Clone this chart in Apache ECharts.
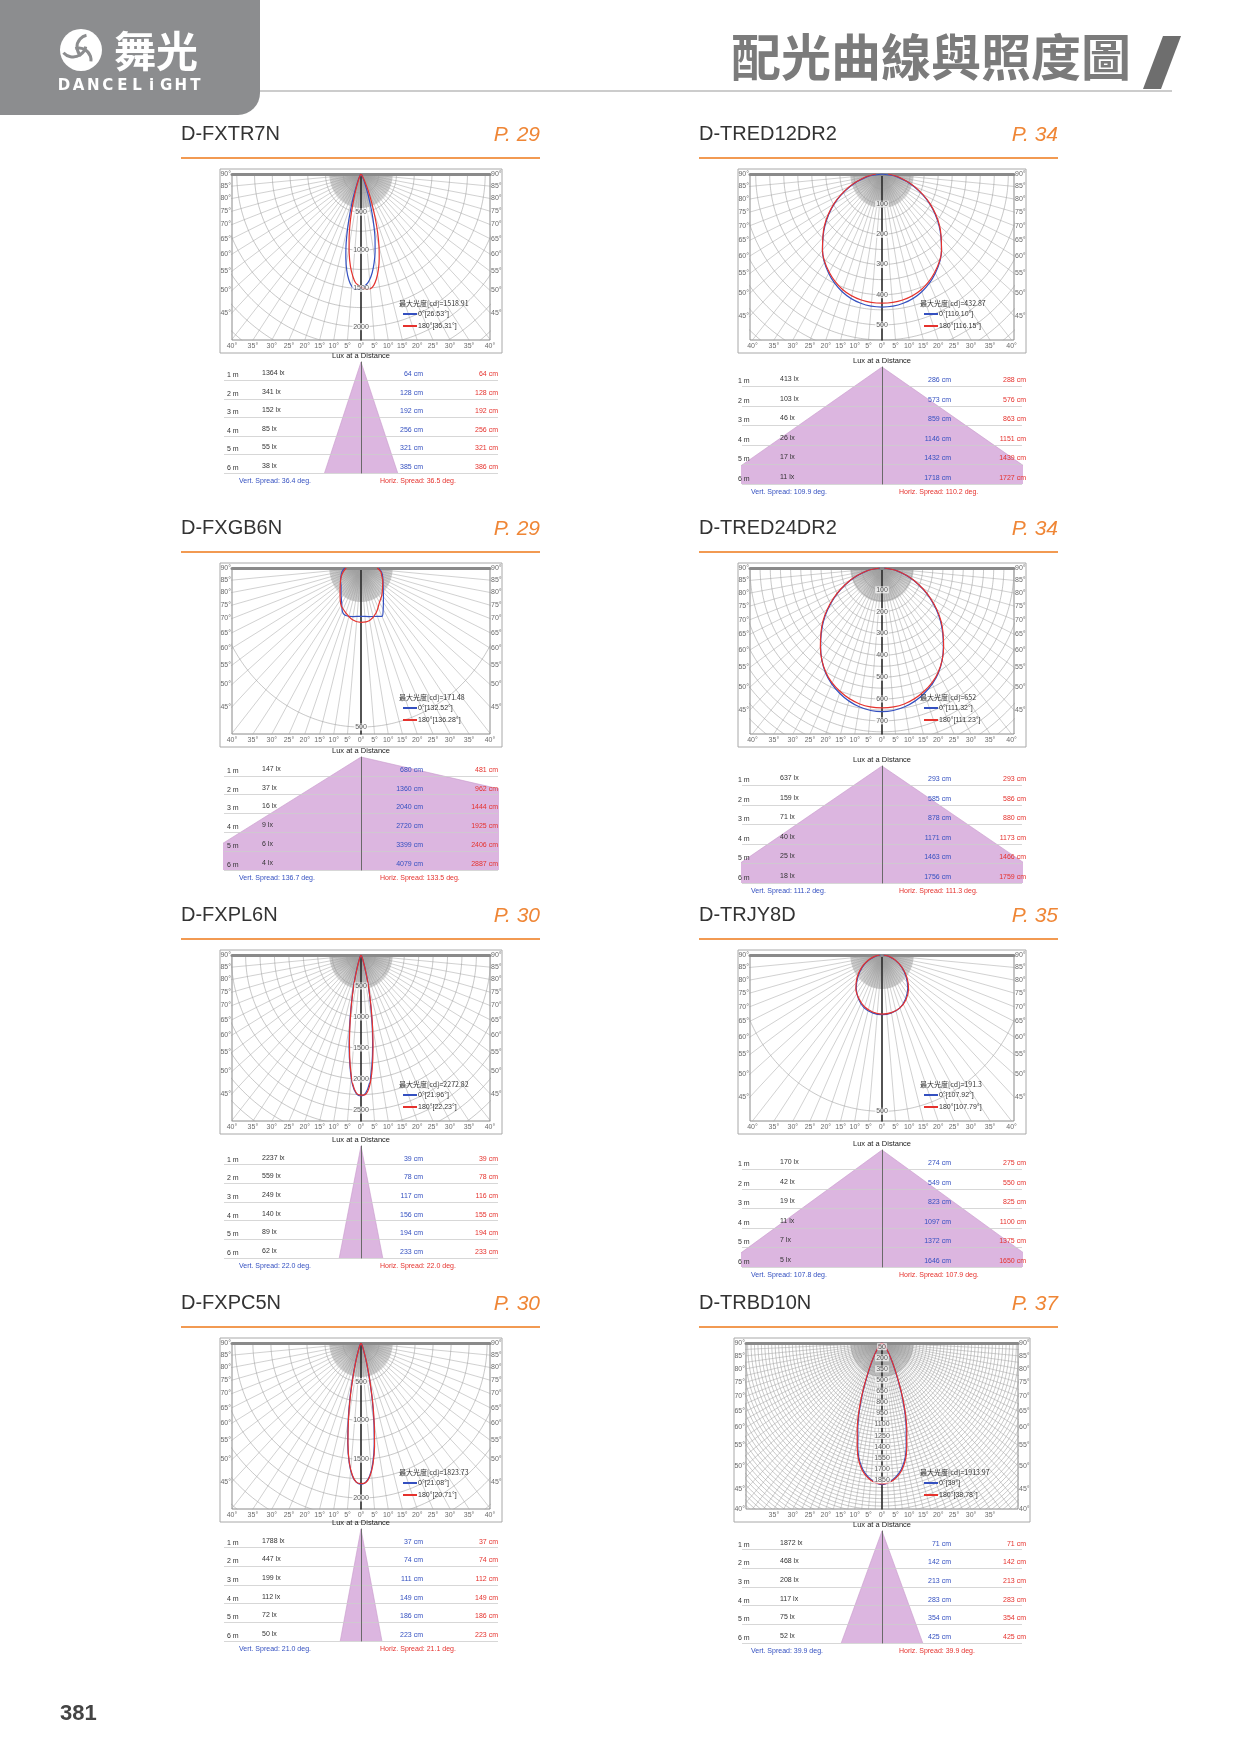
<!DOCTYPE html>
<html lang="zh-Hant">
<head>
  <meta charset="UTF-8">
  <title>配光曲線與照度圖</title>
  <style>
    html, body { margin: 0; padding: 0; background: #fff; }
    #main { width: 1241px; height: 1754px; }
  </style>
</head>
<body>
  <div id="main"></div>
  <script src="https://cdn.jsdelivr.net/npm/echarts@6/dist/echarts.min.js"></script>
  <script>
    // ---- data ----
    var modelNames = ['D-FXTR7N', 'D-TRED12DR2', 'D-FXGB6N', 'D-TRED24DR2', 'D-FXPL6N', 'D-TRJY8D', 'D-FXPC5N', 'D-TRBD10N'];
    var pageRefs = ['P. 29', 'P. 34', 'P. 29', 'P. 34', 'P. 30', 'P. 35', 'P. 30', 'P. 37'];
    var maxIntensity = ['1518.91', '432.87', '171.48', '652', '2272.82', '191.3', '1823.73', '1913.97'];
    var beamC0 = ['26.53°', '110.10°', '132.52°', '111.32°', '21.96°', '107.92°', '21.08°', '39°'];
    var beamC180 = ['36.31°', '116.15°', '136.28°', '111.23°', '22.23°', '107.79°', '20.71°', '38.78°'];

    var distanceLabels = ['1 m', '2 m', '3 m', '4 m', '5 m', '6 m'];
    var luxAtDistance = [
      [1364, 341, 152, 85, 55, 38],
      [413, 103, 46, 26, 17, 11],
      [147, 37, 16, 9, 6, 4],
      [637, 159, 71, 40, 25, 18],
      [2237, 559, 249, 140, 89, 62],
      [170, 42, 19, 11, 7, 5],
      [1788, 447, 199, 112, 72, 50],
      [1872, 468, 208, 117, 75, 52]
    ];
    var vertDiameter = [
      [64, 128, 192, 256, 321, 385],
      [286, 573, 859, 1146, 1432, 1718],
      [680, 1360, 2040, 2720, 3399, 4079],
      [293, 585, 878, 1171, 1463, 1756],
      [39, 78, 117, 156, 194, 233],
      [274, 549, 823, 1097, 1372, 1646],
      [37, 74, 111, 149, 186, 223],
      [71, 142, 213, 283, 354, 425]
    ];
    var horizDiameter = [
      [64, 128, 192, 256, 321, 386],
      [288, 576, 863, 1151, 1439, 1727],
      [481, 962, 1444, 1925, 2406, 2887],
      [293, 586, 880, 1173, 1466, 1759],
      [39, 78, 116, 155, 194, 233],
      [275, 550, 825, 1100, 1375, 1650],
      [37, 74, 112, 149, 186, 223],
      [71, 142, 213, 283, 354, 425]
    ];
    var vertSpread = ['36.4', '109.9', '136.7', '111.2', '22.0', '107.8', '21.0', '39.9'];
    var horizSpread = ['36.5', '110.2', '133.5', '111.3', '22.0', '107.9', '21.1', '39.9'];
    // half angles of the drawn cone (deg), left / right
    var coneLeft = [18.2, 55, 58, 55.6, 11, 53.9, 10.5, 20];
    var coneRight = [18.3, 55.1, 77, 55.7, 11, 54, 10.6, 20];

    // ring tick labels (cd)
    var ringTicks = [
      [500, 1000, 1500, 2000],
      [100, 200, 300, 400, 500],
      [500],
      [100, 200, 300, 400, 500, 600, 700],
      [500, 1000, 1500, 2000, 2500],
      [500],
      [500, 1000, 1500, 2000],
      [50, 200, 350, 500, 650, 800, 950, 1100, 1250, 1400, 1550, 1700, 1850]
    ];
    var sideAngleTicks = [90, 85, 80, 75, 70, 65, 60, 55, 50, 45];
    var bottomAngleTicks = [40, 35, 30, 25, 20, 15, 10, 5, 0];
    var sideAngleTicksWide = [90, 85, 80, 75, 70, 65, 60, 55, 50, 45, 40];
    var bottomAngleTicksWide = [35, 30, 25, 20, 15, 10, 5, 0];

    // intensity curves [angle deg, cd]; negative angle = left half
    var fxtr7nC0 = [[-90, 0], [-50, 5], [-40, 15], [-30, 45], [-25, 110], [-20, 300], [-17, 520], [-15, 720], [-13, 930], [-11, 1120], [-9, 1280], [-7, 1400], [-5, 1480], [-3, 1515], [0, 1500], [3, 1450], [5, 1390], [7, 1300], [9, 1180], [11, 1040], [13, 880], [15, 700], [17, 520], [20, 300], [25, 110], [30, 45], [40, 15], [50, 5], [90, 0]];
    var fxtr7nC180 = [[-90, 0], [-50, 5], [-40, 12], [-30, 35], [-25, 80], [-20, 200], [-17, 360], [-15, 520], [-13, 700], [-11, 880], [-9, 1060], [-7, 1220], [-5, 1340], [-3, 1430], [0, 1480], [3, 1515], [5, 1510], [7, 1470], [9, 1390], [11, 1280], [13, 1140], [15, 980], [17, 800], [19, 620], [22, 400], [25, 240], [30, 90], [40, 20], [50, 5], [90, 0]];
    var tred12C0 = [[-90, 0], [-80, 55], [-70, 120], [-60, 195], [-50, 265], [-40, 330], [-30, 380], [-20, 415], [-10, 435], [0, 441], [10, 435], [20, 415], [30, 380], [40, 330], [50, 265], [60, 195], [70, 120], [80, 55], [90, 0]];
    var tred12C180 = [[-90, 22], [-80, 62], [-70, 125], [-60, 198], [-50, 268], [-40, 330], [-30, 376], [-20, 408], [-10, 424], [0, 428], [10, 424], [20, 408], [30, 376], [40, 330], [50, 268], [60, 198], [70, 125], [80, 62], [90, 22]];
    var fxgb6nC0 = [[-90, 55], [-80, 65], [-70, 72], [-60, 80], [-50, 88], [-40, 105], [-30, 130], [-25, 150], [-20, 158], [-10, 155], [0, 152], [10, 155], [20, 162], [25, 168], [30, 150], [40, 118], [50, 98], [60, 86], [70, 78], [80, 70], [90, 60]];
    var fxgb6nC180 = [[-90, 50], [-80, 60], [-70, 70], [-60, 80], [-50, 92], [-40, 110], [-30, 135], [-20, 150], [-10, 165], [0, 171], [10, 168], [20, 150], [30, 125], [40, 110], [50, 95], [60, 85], [70, 75], [80, 68], [90, 55]];
    var tred24C0 = [[-90, 10], [-80, 75], [-70, 165], [-60, 270], [-50, 375], [-40, 470], [-30, 555], [-20, 610], [-10, 645], [0, 658], [10, 645], [20, 610], [30, 555], [40, 470], [50, 375], [60, 270], [70, 165], [80, 75], [90, 10]];
    var tred24C180 = [[-90, 12], [-80, 78], [-70, 170], [-60, 275], [-50, 380], [-40, 472], [-30, 552], [-20, 602], [-10, 632], [0, 640], [10, 632], [20, 602], [30, 552], [40, 472], [50, 380], [60, 275], [70, 170], [80, 78], [90, 12]];
    var fxpl6nC0 = [[-90, 0], [-40, 8], [-30, 25], [-25, 55], [-20, 130], [-18, 220], [-16, 360], [-14, 560], [-12, 800], [-10, 1120], [-8, 1480], [-6, 1820], [-4, 2100], [-2, 2240], [0, 2272], [2, 2230], [4, 2080], [6, 1800], [8, 1450], [10, 1100], [12, 780], [14, 540], [16, 350], [18, 210], [20, 130], [25, 55], [30, 25], [40, 8], [90, 0]];
    var fxpl6nC180 = [[-90, 0], [-40, 8], [-30, 22], [-25, 50], [-20, 120], [-18, 200], [-16, 340], [-14, 530], [-12, 780], [-10, 1080], [-8, 1440], [-6, 1790], [-4, 2080], [-2, 2230], [0, 2260], [2, 2250], [4, 2120], [6, 1850], [8, 1500], [10, 1140], [12, 820], [14, 570], [16, 370], [18, 225], [20, 140], [25, 58], [30, 26], [40, 8], [90, 0]];
    var trjy8dC0 = [[-90, 5], [-80, 22], [-70, 48], [-60, 78], [-50, 108], [-40, 138], [-30, 162], [-20, 180], [-10, 188], [0, 191], [10, 188], [20, 180], [30, 162], [40, 138], [50, 108], [60, 78], [70, 48], [80, 22], [90, 5]];
    var trjy8dC180 = [[-90, 8], [-80, 26], [-70, 52], [-60, 82], [-50, 112], [-40, 140], [-30, 160], [-20, 176], [-10, 185], [0, 189], [10, 187], [20, 180], [30, 165], [40, 142], [50, 112], [60, 80], [70, 50], [80, 24], [90, 6]];
    var fxpc5nC0 = [[-90, 0], [-40, 5], [-30, 20], [-25, 50], [-20, 120], [-18, 200], [-16, 320], [-14, 500], [-12, 750], [-10, 1030], [-8, 1320], [-6, 1560], [-4, 1720], [-2, 1800], [0, 1823], [2, 1800], [4, 1720], [6, 1560], [8, 1320], [10, 1030], [12, 750], [14, 500], [16, 320], [18, 200], [20, 120], [25, 50], [30, 20], [40, 5], [90, 0]];
    var fxpc5nC180 = [[-90, 0], [-40, 5], [-30, 18], [-25, 45], [-20, 110], [-18, 185], [-16, 300], [-14, 470], [-12, 720], [-10, 1000], [-8, 1300], [-6, 1550], [-4, 1710], [-2, 1800], [0, 1815], [2, 1805], [4, 1730], [6, 1580], [8, 1350], [10, 1060], [12, 780], [14, 520], [16, 335], [18, 210], [20, 125], [25, 52], [30, 20], [40, 5], [90, 0]];
    var trbd10nC0 = [[-90, 0], [-70, 5], [-60, 15], [-50, 40], [-40, 100], [-35, 170], [-30, 300], [-26, 480], [-23, 700], [-20, 950], [-17, 1200], [-14, 1450], [-10, 1700], [-5, 1850], [0, 1910], [5, 1850], [10, 1700], [14, 1450], [17, 1200], [20, 950], [23, 700], [26, 480], [30, 300], [35, 170], [40, 100], [50, 40], [60, 15], [70, 5], [90, 0]];
    var trbd10nC180 = [[-90, 0], [-70, 5], [-60, 15], [-50, 40], [-40, 100], [-35, 175], [-30, 310], [-26, 500], [-23, 720], [-20, 980], [-17, 1230], [-14, 1480], [-10, 1720], [-5, 1860], [0, 1900], [5, 1860], [10, 1720], [14, 1480], [17, 1230], [20, 980], [23, 720], [26, 500], [30, 310], [35, 175], [40, 100], [50, 40], [60, 15], [70, 5], [90, 0]];

    var curvesC0 = [fxtr7nC0, tred12C0, fxgb6nC0, tred24C0, fxpl6nC0, trjy8dC0, fxpc5nC0, trbd10nC0];
    var curvesC180 = [fxtr7nC180, tred12C180, fxgb6nC180, tred24C180, fxpl6nC180, trjy8dC180, fxpc5nC180, trbd10nC180];

    // ---- layout ----
    var rowY = [134, 528, 915, 1303];
    var colCx = [361, 882];
    var titleX = [181, 699];
    var lineRight = [540, 1058];
    var plotHalfW = [129, 132, 129, 132, 129, 132, 129, 136];
    var plotH = 166;
    var xSquash = 0.93;   // the sheet's plots are a little narrower than true scale
    var hcdAxis = [2175, 550, 522, 760, 2676, 531, 2142, 2240];
    var minorStep = [250, 50, 500, 50, 250, 500, 250, 50];
    var tableOff = [228, 233, 229, 238, 231, 235, 226, 228];
    var tableH = [111, 117, 113, 117, 112, 117, 112, 112];
    var tableHalfW = [137, 140];
    var txtDist = [-134, -144], txtLux = [-99, -102], txtBlue = [62, 69], txtRed = [137, 144];
    var txtVert = [-122, -131], txtHoriz = [19, 17];

    var BLUE = '#3450c0', RED = '#e5322d', GRIDC = '#a3a3a3';
    var LATIN = 'Liberation Sans, Arial, sans-serif';
    var CJK = '"Noto Sans CJK TC", "Noto Sans CJK SC", sans-serif';
    var GAP = ['-', '-'];

    function toXY(angle, cd) {
      var a = angle * Math.PI / 180;
      return [cd * Math.sin(a), -cd * Math.cos(a)];
    }

    var grids = [], xAxes = [], yAxes = [], series = [], graphics = [];

    function txt(x, y, s, font, color, align) {
      graphics.push({
        type: 'text', x: x, y: y, z: 100, silent: true,
        style: { text: s, font: font, fill: color, textAlign: align || 'left', textVerticalAlign: 'middle' }
      });
    }

    // header
    graphics.push({ type: 'rect', z: 1, shape: { x: 0, y: 0, width: 260, height: 115, r: [0, 0, 22, 0] }, style: { fill: '#8c8d8f' } });
    graphics.push({ type: 'circle', z: 2, shape: { cx: 81, cy: 50, r: 21 }, style: { fill: '#fff' } });
    graphics.push({ type: 'arc', z: 3, shape: { cx: 73, cy: 44, r: 13, startAngle: 0.2, endAngle: 2.4 }, style: { stroke: '#8c8d8f', lineWidth: 3, fill: null } });
    graphics.push({ type: 'arc', z: 3, shape: { cx: 89, cy: 47, r: 12, startAngle: 2.3, endAngle: 4.5 }, style: { stroke: '#8c8d8f', lineWidth: 3, fill: null } });
    graphics.push({ type: 'arc', z: 3, shape: { cx: 79, cy: 60, r: 12, startAngle: 4.4, endAngle: 6.4 }, style: { stroke: '#8c8d8f', lineWidth: 3, fill: null } });
    txt(114, 51, '舞光', 'bold 42px ' + CJK, '#fff');
    var brand = 'DANCELiGHT';
    for (var b = 0; b < brand.length; b++) {
      txt(64 + b * 14.6, 86, brand[b], 'bold 15px "DejaVu Sans", sans-serif', '#fff', 'center');
    }
    txt(1131, 57, '配光曲線與照度圖', 'bold 50px ' + CJK, '#7b7b7b', 'right');
    graphics.push({ type: 'polygon', z: 2, shape: { points: [[1143, 89], [1163, 36], [1181, 36], [1161, 89]] }, style: { fill: '#6e6e6e' } });
    graphics.push({ type: 'line', z: 1, shape: { x1: 260, y1: 91, x2: 1172, y2: 91 }, style: { stroke: '#9a9a9a', lineWidth: 1.2 } });
    txt(60, 1714, '381', 'bold 22px ' + LATIN, '#444');

    modelNames.forEach(function (name, i) {
      var col = i % 2, T = rowY[Math.floor(i / 2)], cx = colCx[col];
      var hw = plotHalfW[i], hcd = hcdAxis[i], xmax = hcd * hw / (plotH * xSquash);
      var top = T + 40, bottom = top + plotH;
      var wide = (i === 7);

      // titles
      txt(titleX[col], T, name, '20px ' + LATIN, '#333');
      txt(lineRight[col], T + 1, pageRefs[i], 'italic 21px ' + LATIN, '#ef8636', 'right');
      graphics.push({ type: 'rect', z: 1, shape: { x: titleX[col], y: T + 23, width: lineRight[col] - titleX[col], height: 2 }, style: { fill: '#f29a52' } });
      graphics.push({ type: 'rect', z: 1, shape: { x: cx - hw - 12, y: T + 35, width: 2 * hw + 24, height: plotH + 18 }, style: { fill: null, stroke: '#a8a8a8', lineWidth: 1 } });

      // polar plot drawn on a cartesian grid in cd units
      var gP = grids.length;
      grids.push({ left: cx - hw, top: top, width: 2 * hw, height: plotH, show: true, borderColor: '#8a8a8a', borderWidth: 1 });
      xAxes.push({
        gridIndex: gP, type: 'value', min: -xmax, max: xmax, position: 'top', z: 4,
        axisLine: { show: true, onZero: false, lineStyle: { color: '#8a8a8a', width: 3 } },
        axisTick: { show: false }, axisLabel: { show: false }, splitLine: { show: false }
      });
      yAxes.push({
        gridIndex: gP, type: 'value', min: -hcd, max: 0, z: 4,
        axisLine: { show: true, onZero: true, lineStyle: { color: '#222', width: 1.5 } },
        axisTick: { show: false }, axisLabel: { show: false }, splitLine: { show: false }
      });

      var rmax = Math.sqrt(xmax * xmax + hcd * hcd) * 1.05;
      var rings = [];
      for (var k = 1; k * minorStep[i] <= rmax; k++) {
        for (var a = -90; a <= 90; a += 1) rings.push(toXY(a, k * minorStep[i]));
        rings.push(GAP);
      }
      var spokes = [];
      var sStep = wide ? 2.5 : 5;
      for (var s = -90; s <= 90; s += sStep) { spokes.push([0, 0], toXY(s, rmax), GAP); }
      var fanR = 34 * hcd / plotH;
      for (var f = -90; f <= 90; f += 1.25) { spokes.push([0, 0], toXY(f, fanR), GAP); }

      var lineBase = { type: 'line', xAxisIndex: gP, yAxisIndex: gP, symbol: 'none', silent: true, animation: false, connectNulls: false, clip: true };
      series.push(Object.assign({}, lineBase, { data: rings, z: 1, lineStyle: { color: GRIDC, width: 0.6 } }));
      series.push(Object.assign({}, lineBase, { data: spokes, z: 1, lineStyle: { color: GRIDC, width: 0.5 } }));
      series.push(Object.assign({}, lineBase, { data: curvesC0[i].map(function (p) { return toXY(p[0], p[1]); }), z: 5, smooth: 0.3, lineStyle: { color: BLUE, width: 1.2 } }));
      series.push(Object.assign({}, lineBase, { data: curvesC180[i].map(function (p) { return toXY(p[0], p[1]); }), z: 5, smooth: 0.3, lineStyle: { color: RED, width: 1.2 } }));

      series.push({
        type: 'scatter', xAxisIndex: gP, yAxisIndex: gP, symbolSize: 0, silent: true, animation: false, z: 7, clip: false,
        data: ringTicks[i].map(function (r) { return { name: String(r), value: [0, -r] }; }),
        label: { show: true, position: 'inside', formatter: '{b}', fontSize: 7, fontFamily: LATIN, color: '#333', backgroundColor: 'rgba(255,255,255,0.9)', padding: [0, 1] }
      });

      var sideT = wide ? sideAngleTicksWide : sideAngleTicks;
      var botT = wide ? bottomAngleTicksWide : bottomAngleTicks;
      var sideL = [], sideR = [], bot = [];
      sideT.forEach(function (t) {
        var y = t === 90 ? 0 : -Math.min(hcd, xmax / Math.tan(t * Math.PI / 180));
        sideL.push({ name: t + '°', value: [-xmax, y] });
        sideR.push({ name: t + '°', value: [xmax, y] });
      });
      botT.forEach(function (t) {
        var x = Math.min(xmax, hcd * Math.tan(t * Math.PI / 180));
        bot.push({ name: t + '°', value: [-x, -hcd] });
        if (t !== 0) bot.push({ name: t + '°', value: [x, -hcd] });
      });
      var lab = { show: true, formatter: '{b}', fontSize: 7, fontFamily: LATIN, color: '#444', distance: 1 };
      var sc = { type: 'scatter', xAxisIndex: gP, yAxisIndex: gP, symbolSize: 0, silent: true, animation: false, z: 7, clip: false };
      series.push(Object.assign({}, sc, { data: sideL, label: Object.assign({}, lab, { position: 'left' }) }));
      series.push(Object.assign({}, sc, { data: sideR, label: Object.assign({}, lab, { position: 'right' }) }));
      series.push(Object.assign({}, sc, { data: bot, label: Object.assign({}, lab, { position: 'bottom', distance: 3 }) }));

      // legend block
      var lx = cx + 40;
      txt(lx - 2, bottom - 37, '最大光度[cd]=' + maxIntensity[i], '7px ' + CJK, '#333');
      graphics.push({ type: 'line', z: 100, shape: { x1: lx + 2, y1: bottom - 26, x2: lx + 16, y2: bottom - 26 }, style: { stroke: BLUE, lineWidth: 2 } });
      txt(lx + 17, bottom - 26, '0°[' + beamC0[i] + ']', '7px ' + LATIN, '#333');
      graphics.push({ type: 'line', z: 100, shape: { x1: lx + 2, y1: bottom - 14, x2: lx + 16, y2: bottom - 14 }, style: { stroke: RED, lineWidth: 2 } });
      txt(lx + 17, bottom - 14, '180°[' + beamC180[i] + ']', '7px ' + LATIN, '#333');

      // lux at a distance table
      var tTop = T + tableOff[i], tH = tableH[i], tHW = tableHalfW[col], pxm = tH / 6;
      txt(cx, tTop - 6, 'Lux at a Distance', '7.5px ' + LATIN, '#222', 'center');
      var gT = grids.length;
      grids.push({ left: cx - tHW, top: tTop, width: 2 * tHW, height: tH });
      xAxes.push({ gridIndex: gT, type: 'value', min: -tHW / pxm, max: tHW / pxm, show: false });
      yAxes.push({
        gridIndex: gT, type: 'value', inverse: true, min: 0, max: 6, interval: 1, z: 4,
        axisLine: { show: true, onZero: true, lineStyle: { color: '#6a6a6a', width: 1 } },
        axisTick: { show: false }, axisLabel: { show: false },
        splitLine: { show: true, showMinLine: false, lineStyle: { color: '#cdcdcd', width: 0.8 } }
      });
      var tl = Math.tan(coneLeft[i] * Math.PI / 180), tr = Math.tan(coneRight[i] * Math.PI / 180);
      series.push({
        type: 'line', xAxisIndex: gT, yAxisIndex: gT, symbol: 'none', silent: true, animation: false, clip: true, z: 2,
        data: [[-6 * tl, 6], [0, 0], [6 * tr, 6]],
        lineStyle: { color: '#c79acb', width: 0.6 },
        areaStyle: { color: '#dcb6e0', opacity: 1, origin: 'end' }
      });
      for (var r = 0; r < 6; r++) {
        var yy = tTop + (r + 1) * pxm - 6;
        txt(cx + txtDist[col], yy + 1, distanceLabels[r], '7px ' + LATIN, '#333');
        txt(cx + txtLux[col], yy - 1, luxAtDistance[i][r] + ' lx', '7px ' + LATIN, '#333');
        txt(cx + txtBlue[col], yy, vertDiameter[i][r] + ' cm', '7px ' + LATIN, BLUE, 'right');
        txt(cx + txtRed[col], yy, horizDiameter[i][r] + ' cm', '7px ' + LATIN, RED, 'right');
      }
      txt(cx + txtVert[col], tTop + tH + 8, 'Vert. Spread: ' + vertSpread[i] + ' deg.', '7px ' + LATIN, BLUE);
      txt(cx + txtHoriz[col], tTop + tH + 8, 'Horiz. Spread: ' + horizSpread[i] + ' deg.', '7px ' + LATIN, RED);
    });

    var chart = echarts.init(document.getElementById('main'));
    chart.setOption({
      backgroundColor: '#fff',
      animation: false,
      grid: grids,
      xAxis: xAxes,
      yAxis: yAxes,
      series: series,
      graphic: { elements: graphics }
    });
  </script>
</body>
</html>
